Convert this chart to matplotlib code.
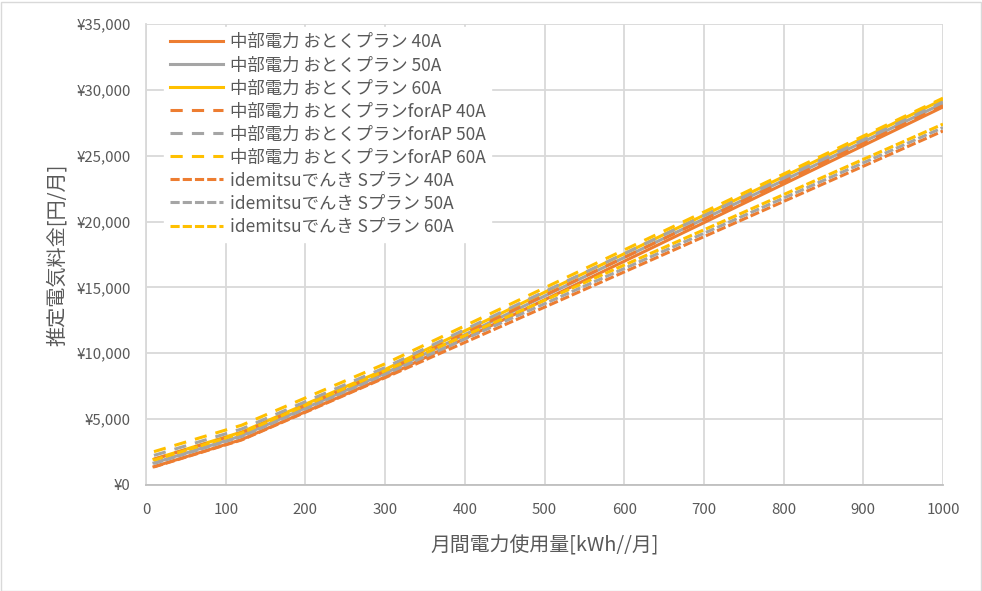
import matplotlib
matplotlib.use("Agg")
import matplotlib.pyplot as plt
import matplotlib.ticker as mticker
from matplotlib.patches import Rectangle

plt.rcParams['font.family'] = ['Noto Sans CJK JP', 'DejaVu Sans']

# usage breakpoints [kWh/month] (lines are straight between tier changes)
usage = [10, 120, 300, 1000]

# 中部電力 おとくプラン
chubu_40 = [1390, 3450, 8200, 28700]
chubu_50 = [1676, 3736, 8486, 28986]
chubu_60 = [1962, 4022, 8772, 29272]
# 中部電力 おとくプラン forAP
ap_40 = [1960, 3968, 8632, 28800]
ap_50 = [2246, 4254, 8918, 29086]
ap_60 = [2532, 4540, 9204, 29372]
# idemitsuでんき Sプラン
ide_40 = [1370, 3420, 8150, 26880]
ide_50 = [1630, 3680, 8410, 27140]
ide_60 = [1890, 3940, 8670, 27400]

labels = [
    "中部電力 おとくプラン 40A", "中部電力 おとくプラン 50A", "中部電力 おとくプラン 60A",
    "中部電力 おとくプランforAP 40A", "中部電力 おとくプランforAP 50A", "中部電力 おとくプランforAP 60A",
    "idemitsuでんき Sプラン 40A", "idemitsuでんき Sプラン 50A", "idemitsuでんき Sプラン 60A",
]
series = [chubu_40, chubu_50, chubu_60, ap_40, ap_50, ap_60, ide_40, ide_50, ide_60]
colors = ["#ED7D31", "#A5A5A5", "#FFC000"] * 3
styles = ["-"] * 3 + [(0, (4, 3))] * 3 + [(0, (3, 1))] * 3

fig = plt.figure(figsize=(9.82, 5.91), dpi=100)
ax = fig.add_axes([146 / 982, 1 - 485 / 591, (943 - 146) / 982, (485 - 24) / 591])

for y, lab, c, ls in zip(series, labels, colors, styles):
    ax.plot(usage, y, color=c, lw=2.2, linestyle=ls, label=lab)

ax.set_xlim(0, 1000)
ax.set_ylim(0, 35000)
ax.set_xticks(range(0, 1001, 100))
ax.set_yticks(range(0, 35001, 5000))
ax.yaxis.set_major_formatter(mticker.FuncFormatter(lambda v, p: "¥{:,.0f}".format(v)))
ax.grid(True, color="#D9D9D9", lw=1.3)
ax.set_axisbelow(True)
for s in ["top", "right"]:
    ax.spines[s].set_visible(False)
ax.spines["left"].set_color("#D9D9D9")
ax.spines["bottom"].set_color("#BFBFBF")
ax.spines["left"].set_linewidth(1.3)
ax.spines["bottom"].set_linewidth(1.3)
ax.tick_params(length=0, labelsize=10.8, labelcolor="#595959")
ax.tick_params(axis="y", pad=11)
ax.tick_params(axis="x", pad=13)

ax.set_xlabel("月間電力使用量[kWh//月]", fontsize=14.3, color="#595959", labelpad=13)
ax.set_ylabel("推定電気料金[円/月]", fontsize=14.5, color="#595959", labelpad=6)

leg = ax.legend(loc="upper left", bbox_to_anchor=(0.022, 0.993), borderaxespad=0,
                fontsize=12.5, frameon=True, fancybox=False, handlelength=3.1,
                handletextpad=0.35, labelspacing=0.29, borderpad=0.35)
leg.get_frame().set_facecolor("white")
leg.get_frame().set_edgecolor("white")
leg.get_frame().set_alpha(1)
for t in leg.get_texts():
    t.set_color("#595959")

fig.patches.append(Rectangle((0.5 / 982, 0.5 / 591), 980 / 982, 589 / 591, transform=fig.transFigure,
                             fill=False, edgecolor="#D9D9D9", lw=1))

fig.savefig("out.png", dpi=100)
